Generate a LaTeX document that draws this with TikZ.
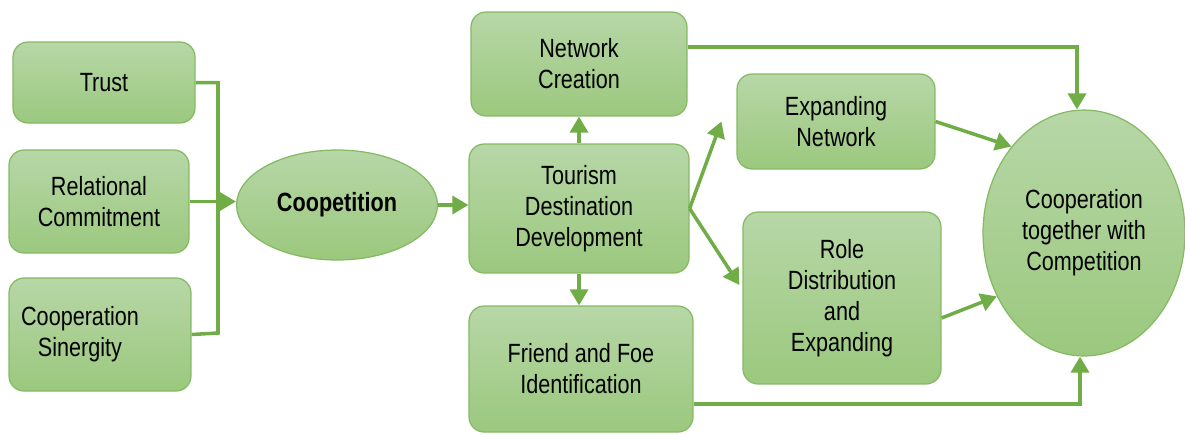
\documentclass[tikz,border=0pt]{standalone}
\usepackage{fontspec}
\setmainfont{Liberation Sans}[FakeStretch=0.82]
\usetikzlibrary{shapes.geometric,arrows.meta}
\definecolor{leaf}{RGB}{112,173,71}
\definecolor{paletop}{RGB}{183,215,167}
\definecolor{palebot}{RGB}{155,200,126}

\begin{document}
\begin{tikzpicture}[x=0.02cm,y=-0.02cm,
	box/.style={draw=leaf!85!white,line width=0.7pt,rounded corners=0.3cm,top color=paletop,bottom color=palebot,align=center,inner sep=2pt,font=\fontsize{15}{17.6}\selectfont},
	oval/.style={box,ellipse,sharp corners},
	link/.style={draw=leaf,line width=2pt},
	arrow/.style={link,-{Triangle[length=0.32cm,width=0.36cm]}}]
	\useasboundingbox (0,0) rectangle (1185,434);
	% left column
	\node (trust) at (104,82.5)[box,minimum width=3.64cm,minimum height=1.62cm]{Trust};
	\node (rc) at (99,201.5)[box,minimum width=3.6cm,minimum height=2.06cm]{Relational\\Commitment};
	\node (cs) at (100,334.5)[box,minimum width=3.64cm,minimum height=2.26cm]{Cooperation\hspace*{0.8cm}\\Sinergity\hspace*{0.8cm}};
	\node (coop) at (337,205)[oval,minimum width=4.02cm,minimum height=2.2cm]{\bfseries Coopetition};
	% middle column
	\node (nc) at (579,64)[box,minimum width=4.32cm,minimum height=2.08cm]{Network\\Creation};
	\node (tdd) at (579,208.5)[box,minimum width=4.4cm,minimum height=2.58cm]{Tourism\\Destination\\Development};
	\node (ff) at (581,369)[box,minimum width=4.48cm,minimum height=2.52cm]{Friend and Foe\\Identification};
	% right side
	\node (en) at (836,121.5)[box,minimum width=3.96cm,minimum height=1.9cm]{Expanding\\Network};
	\node (rd) at (842,298)[box,minimum width=3.96cm,minimum height=3.44cm]{Role\\Distribution\\and\\Expanding};
	\node (cc) at (1084,233)[oval,minimum width=4.04cm,minimum height=4.92cm]{Cooperation\\together with\\Competition};
	% connectors
	\coordinate (jbot) at (218,333);
	\draw[link] (trust.east) -| (jbot) -- (cs.east);
	\draw[arrow] (rc.east) -- (rc.east -| coop.west);
	\draw[arrow] (coop.east) -- (coop.east -| tdd.west);
	\draw[arrow] (tdd.north) -- (nc.south);
	\draw[arrow] (tdd.south) -- (tdd.south |- ff.north);
	\draw[arrow] (tdd.east) -- ([xshift=-0.3cm]en.west);
	\draw[arrow] (tdd.east) -- ([xshift=-0.06cm,yshift=0.26cm]rd.west);
	\draw[arrow] (en.east) -- (cc.130);
	\draw[arrow] ([yshift=-0.4cm]rd.east) -- (cc.216);
	\draw[arrow] ([yshift=0.34cm]nc.east) -| ([xshift=-0.14cm]cc.north);
	\draw[arrow] ([yshift=-0.7cm]ff.east) -| ([xshift=-0.08cm]cc.south);
\end{tikzpicture}
\end{document}
